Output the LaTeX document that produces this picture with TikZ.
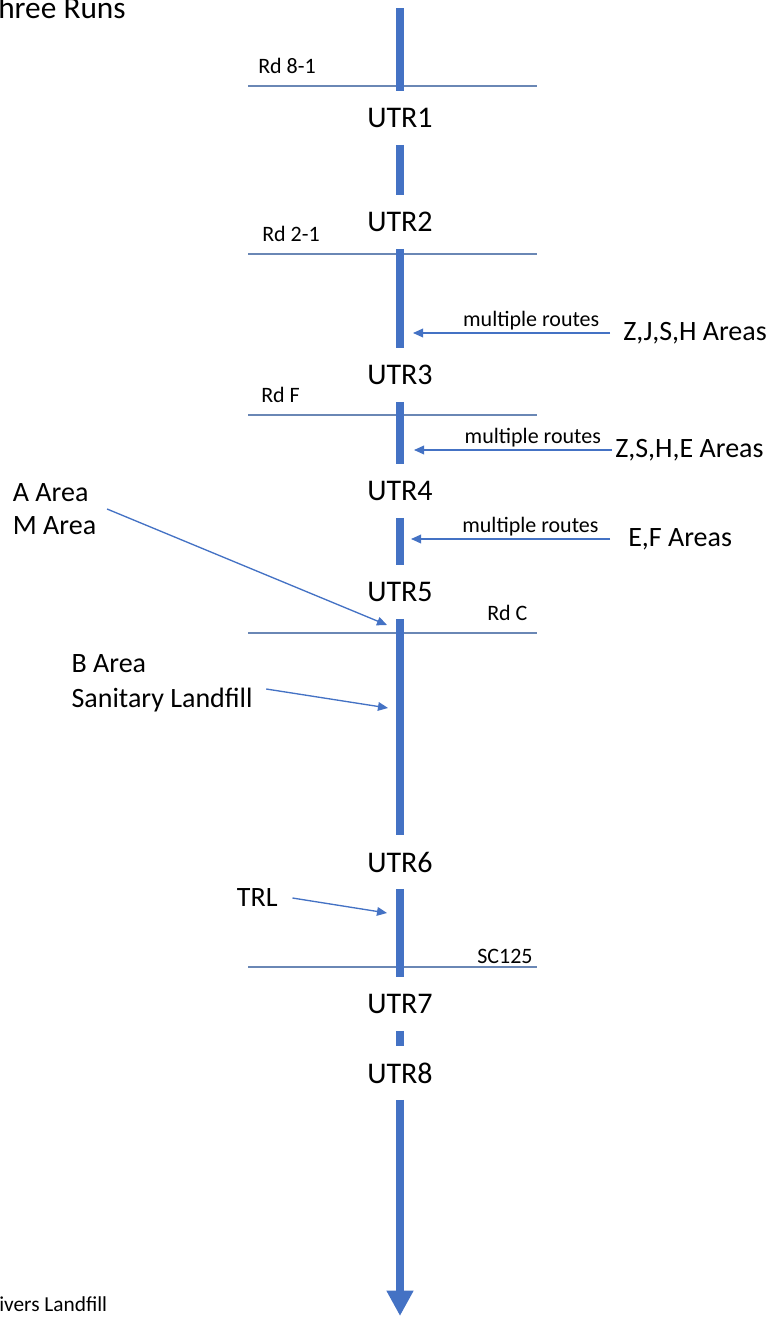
\documentclass[tikz,border=0pt]{standalone}
\usepackage{fontspec}
\setmainfont{Carlito}
\usepackage{xcolor}
\usetikzlibrary{arrows.meta}
\definecolor{utrblue}{HTML}{4472C4}
\definecolor{roadblue}{HTML}{6A87B5}

\begin{document}
\begin{tikzpicture}[x=0.75pt,y=-0.75pt,
  utr/.style={font=\fontsize{22.5}{25}\selectfont,minimum height=40pt,inner sep=0pt},
  area/.style={font=\fontsize{21}{24.75}\selectfont,inner ysep=0pt},
  rdlabel/.style={font=\fontsize{16.5}{19}\selectfont,inner sep=0pt,anchor=base west},
  routes/.style={font=\fontsize{16.5}{19}\selectfont,text=black,inner sep=1.5pt,above,pos=0.4},
  road/.style={roadblue,line width=1pt},
  trunk/.style={utrblue,line width=6pt},
  feed/.style={utrblue,line width=1pt,-{Triangle[length=7.5pt,width=6.5pt]}}]
\useasboundingbox (0,0) rectangle (777,1317);
\node[anchor=base west,inner sep=0pt,font=\fontsize{23.5}{27}\selectfont] (title) at (-2,18) {hree Runs};
\node[anchor=base west,inner sep=0pt,font=\fontsize{16}{19}\selectfont] (landfill) at (-1,1311) {ivers Landfill};
\foreach \y in {86,254,415,633,967}
  \draw[road] (248,\y) -- (537,\y);
\node[rdlabel] (rd81) at (258,73) {Rd 8-1};
\node[rdlabel] (rd21) at (262,241) {Rd 2-1};
\node[rdlabel] (rdf) at (261,402) {Rd F};
\node[rdlabel] (rdc) at (487,620) {Rd C};
\node[rdlabel] (sc125) at (477,963) {SC125};
\foreach \n/\y in {1/118,2/222,3/375,4/491,5/592,6/862,7/1004,8/1073}
  \node[utr] (utr\n) at (400,\y) {UTR\n};
\coordinate (top) at (400,8);
\coordinate (bottom) at (400,1316);
\draw[trunk] (top) -- (utr1.north);
\foreach \a/\b in {1/2,2/3,3/4,4/5,5/6,6/7,7/8}
  \draw[trunk] (utr\a.south) -- (utr\b.north);
\draw[trunk,-{Triangle[length=19pt,width=19pt]}] (utr8.south) -- (bottom);
\node[area,inner xsep=9.75pt,anchor=west] (zjsh) at (610,333) {Z,J,S,H Areas};
\node[area,inner xsep=2.25pt,anchor=west] (zshe) at (612,450) {Z,S,H,E Areas};
\node[area,inner xsep=13.5pt,anchor=west] (ef) at (610,539) {E,F Areas};
\coordinate (in1) at (413,333);
\coordinate (in2) at (414,450);
\coordinate (in3) at (411,539);
\draw[feed] (zjsh.west) -- node[routes] (mr1) {multiple routes} (in1);
\draw[feed] (zshe.west) -- node[routes] (mr2) {multiple routes} (in2);
\draw[feed] (ef.west) -- node[routes] (mr3) {multiple routes} (in3);
\node[area,align=left,inner xsep=8pt,anchor=west] (amarea) at (2,509) {A Area\\M Area};
\node[area,align=left,inner xsep=10pt,anchor=west] (bsl) at (58,683) {B Area\\[1.5pt]Sanitary Landfill};
\node[area,inner xsep=11pt,anchor=west] (trl) at (222,898) {TRL};
\coordinate (in4) at (387,625);
\coordinate (in5) at (388,708);
\coordinate (in6) at (387,913);
\draw[feed] (amarea.east) -- (in4);
\draw[feed] ([yshift=-4.5pt]bsl.east) -- (in5);
\draw[feed] (trl.east) -- (in6);
\end{tikzpicture}
\end{document}
